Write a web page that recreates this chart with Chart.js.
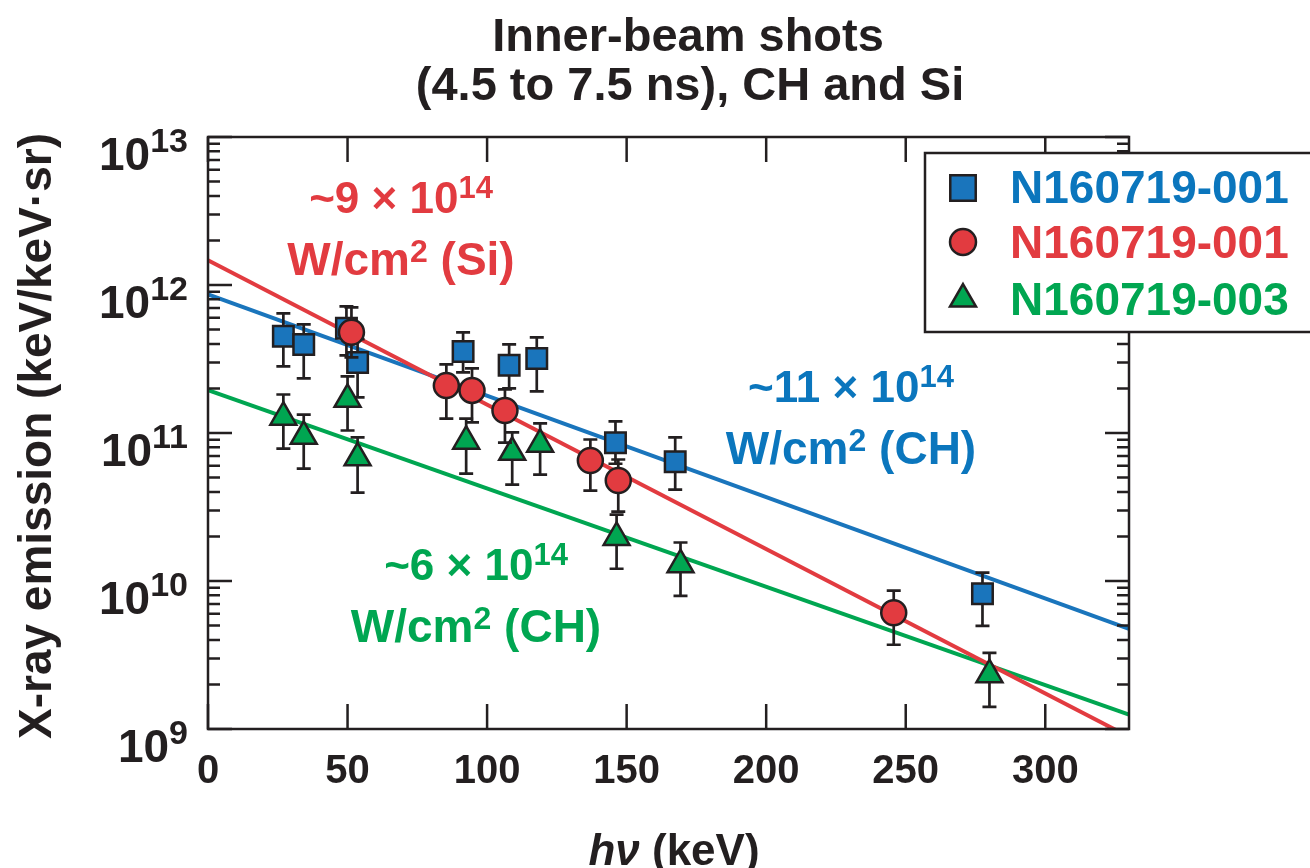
<!DOCTYPE html>
<html>
<head>
<meta charset="utf-8">
<title>Inner-beam shots</title>
<script src="https://cdn.jsdelivr.net/npm/chart.js@4.4.1/dist/chart.umd.min.js"></script>
<style>
  html, body { margin: 0; padding: 0; background: #fff; }
  #wrap { width: 1310px; height: 868px; }
</style>
</head>
<body>
<div id="wrap"><canvas id="xray" width="1310" height="868"></canvas></div>
<script>
// --- data (hv in keV, emission in keV/keV.sr) ---
const blueX  = [27, 34.3, 49.6, 53.6, 91.4, 107.9, 117.8, 146, 167.4, 277.5];
const blueY  = [4.5e11, 3.97e11, 5.1e11, 3.0e11, 3.56e11, 2.87e11, 3.19e11, 8.6e10, 6.4e10, 8.2e9];
const blueLo = [2.82e11, 2.34e11, 3.35e11, 1.74e11, 2.57e11, 2.0e11, 1.91e11, 6.2e10, 4.15e10, 4.98e9];
const blueHi = [6.44e11, 5.42e11, 7.18e11, 4.3e11, 4.79e11, 3.97e11, 4.43e11, 1.2e11, 9.33e10, 1.14e10];

const redX  = [51.4, 85.4, 94.6, 106.4, 137, 147, 245.7];
const redY  = [4.79e11, 2.09e11, 1.94e11, 1.42e11, 6.52e10, 4.78e10, 6.1e9];
const redLo = [3.24e11, 1.25e11, 1.18e11, 8.6e10, 4.08e10, 2.94e10, 3.71e9];
const redHi = [7.07e11, 2.91e11, 2.73e11, 1.97e11, 9.04e10, 6.62e10, 8.6e9];

const greenX  = [27, 34.3, 50, 53.6, 92.5, 109, 119, 146.4, 169.3, 280];
const greenY  = [1.28e11, 9.5e10, 1.69e11, 6.8e10, 8.8e10, 7.4e10, 8.4e10, 1.97e10, 1.29e10, 2.33e9];
const greenLo = [7.85e10, 5.75e10, 1.04e11, 3.96e10, 5.32e10, 4.48e10, 5.24e10, 1.21e10, 7.94e9, 1.41e9];
const greenHi = [1.82e11, 1.33e11, 2.41e11, 9.33e10, 1.25e11, 1.01e11, 1.16e11, 2.81e10, 1.82e10, 3.27e9];

// exponential fits (end points at hv = 0 and 330 keV)
const fitX     = [0, 330];
const blueFit  = [8.65e11, 4.75e9];
const redFit   = [1.47e12, 8.86e8];
const greenFit = [1.95e11, 1.25e9];

const xTicks   = [0, 50, 100, 150, 200, 250, 300];
const yDecades = [9, 10, 11, 12, 13];
const legendLabels = ["N160719-001", "N160719-001", "N160719-003"];

const INK = "#231f20";
const BLUE = "#1a75bc";
const RED = "#e23b40";
const GREEN = "#00a651";
const FONT = '"Liberation Sans", Arial, Helvetica, sans-serif';

const pts = (xs, ys) => xs.map((x, i) => ({ x: x, y: ys[i] }));

// draw a run of text pieces (for superscripts) left/center/right aligned
function rich(ctx, segs, x, y, align) {
  let total = 0;
  segs.forEach((s) => {
    ctx.font = s.font;
    s.w = ctx.measureText(s.text).width;
    total += s.w;
  });
  let cx = align === "center" ? x - total / 2 : align === "right" ? x - total : x;
  ctx.textAlign = "left";
  ctx.textBaseline = "alphabetic";
  segs.forEach((s) => {
    ctx.font = s.font;
    ctx.fillText(s.text, cx, y + (s.dy || 0));
    cx += s.w;
  });
}

const b = (size) => `bold ${size}px ${FONT}`;

function note(ctx, color, cx, base1, lead, tail) {
  ctx.fillStyle = color;
  rich(ctx, [{ text: lead, font: b(44) }, { text: "14", font: b(31), dy: -15 }], cx, base1, "center");
  rich(ctx, [
    { text: "W/cm", font: b(46) },
    { text: "2", font: b(32), dy: -13 },
    { text: tail, font: b(46) },
  ], cx, base1 + 62, "center");
}

const framePlugin = {
  id: "frameAndText",
  beforeDatasetDraw(chart, args) {
    const ds = chart.data.datasets[args.index];
    if (!ds.errLo) return;
    const ctx = chart.ctx;
    const xs = chart.scales.x;
    const ys = chart.scales.y;
    ctx.save();
    ctx.strokeStyle = INK;
    ctx.lineWidth = 2.7;
    ds.data.forEach((p, i) => {
      const px = xs.getPixelForValue(p.x);
      const top = ys.getPixelForValue(ds.errHi[i]);
      const bot = ys.getPixelForValue(ds.errLo[i]);
      ctx.beginPath();
      ctx.moveTo(px, top);
      ctx.lineTo(px, bot);
      ctx.moveTo(px - 7, top);
      ctx.lineTo(px + 7, top);
      ctx.moveTo(px - 7, bot);
      ctx.lineTo(px + 7, bot);
      ctx.stroke();
    });
    ctx.restore();
  },
  afterDraw(chart) {
    const ctx = chart.ctx;
    const area = chart.chartArea;
    const xs = chart.scales.x;
    const ys = chart.scales.y;
    ctx.save();

    // frame + ticks
    ctx.strokeStyle = INK;
    ctx.lineWidth = 2.5;
    ctx.strokeRect(area.left, area.top, area.right - area.left, area.bottom - area.top);
    ctx.beginPath();
    xTicks.forEach((v) => {
      const px = xs.getPixelForValue(v);
      ctx.moveTo(px, area.bottom);
      ctx.lineTo(px, area.bottom - 25);
      ctx.moveTo(px, area.top);
      ctx.lineTo(px, area.top + 25);
    });
    yDecades.forEach((d) => {
      for (let m = 1; m <= 9; m++) {
        if (d === 13 && m > 1) break;
        const py = ys.getPixelForValue(m * Math.pow(10, d));
        const len = m === 1 ? 24 : 12;
        ctx.moveTo(area.left, py);
        ctx.lineTo(area.left + len, py);
        ctx.moveTo(area.right, py);
        ctx.lineTo(area.right - len, py);
      }
    });
    ctx.stroke();

    // tick labels
    ctx.fillStyle = INK;
    ctx.font = b(40);
    ctx.textAlign = "center";
    ctx.textBaseline = "alphabetic";
    xTicks.forEach((v) => {
      ctx.fillText(String(v), xs.getPixelForValue(v), area.bottom + 54);
    });
    yDecades.forEach((d) => {
      const py = ys.getPixelForValue(Math.pow(10, d));
      rich(ctx, [{ text: "10", font: b(46) }, { text: String(d), font: b(34), dy: -18 }], 188, py + 33, "right");
    });

    // title
    ctx.font = b(47);
    ctx.textAlign = "center";
    ctx.fillText("Inner-beam shots", 688, 51);
    ctx.fillText("(4.5 to 7.5 ns), CH and Si", 690, 100);

    // axis titles
    ctx.save();
    ctx.translate(51, 436);
    ctx.rotate(-Math.PI / 2);
    ctx.font = b(46);
    ctx.textAlign = "center";
    ctx.fillText("X-ray emission (keV/keV\u00b7sr)", 0, 0);
    ctx.restore();
    rich(ctx, [
      { text: "h\u03bd", font: `italic bold 44px ${FONT}` },
      { text: " (keV)", font: b(44) },
    ], 674, 865, "center");

    // rate annotations
    note(ctx, RED, 401, 213, "~9 \u00d7 10", " (Si)");
    note(ctx, "#0b76bd", 851, 402, "~11 \u00d7 10", " (CH)");
    note(ctx, GREEN, 476, 580, "~6 \u00d7 10", " (CH)");

    // legend box
    ctx.fillStyle = "#fff";
    ctx.fillRect(925, 153, 400, 179);
    ctx.strokeStyle = INK;
    ctx.lineWidth = 2.5;
    ctx.strokeRect(925, 153, 400, 179);
    const marks = [
      { style: "rect", r: 18, fill: BLUE, y: 188, text: "#0b76bd", base: 203 },
      { style: "circle", r: 13, fill: RED, y: 242, text: RED, base: 258 },
      { style: "triangle", r: 15, fill: GREEN, y: 299, text: GREEN, base: 315 },
    ];
    marks.forEach((m, i) => {
      ctx.fillStyle = m.fill;
      ctx.strokeStyle = INK;
      ctx.lineWidth = 2.5;
      Chart.helpers.drawPoint(ctx, { pointStyle: m.style, radius: m.r, borderWidth: 2.5, rotation: 0 }, 963, m.y);
      ctx.fillStyle = m.text;
      ctx.font = b(46);
      ctx.textAlign = "left";
      ctx.fillText(legendLabels[i], 1010, m.base);
    });

    ctx.restore();
  },
};

const markerSet = (label, xs, ys, lo, hi, style, radius, fill, order) => ({
  label: label,
  data: pts(xs, ys),
  errLo: lo,
  errHi: hi,
  showLine: false,
  pointStyle: style,
  pointRadius: radius,
  pointHoverRadius: radius,
  pointBackgroundColor: fill,
  pointBorderColor: INK,
  pointBorderWidth: 2.5,
  order: order,
});

const fitSet = (ys, color, order) => ({
  label: "fit",
  data: pts(fitX, ys),
  showLine: true,
  borderColor: color,
  borderWidth: 4,
  pointRadius: 0,
  order: order,
});

new Chart(document.getElementById("xray"), {
  type: "scatter",
  data: {
    datasets: [
      fitSet(blueFit, BLUE, 12),
      fitSet(greenFit, GREEN, 11),
      fitSet(redFit, RED, 10),
      markerSet("N160719-001", blueX, blueY, blueLo, blueHi, "rect", 14.5, BLUE, 3),
      markerSet("N160719-003", greenX, greenY, greenLo, greenHi, "triangle", 15, GREEN, 2),
      markerSet("N160719-001 (Si)", redX, redY, redLo, redHi, "circle", 12.5, RED, 1),
    ],
  },
  options: {
    responsive: false,
    animation: false,
    events: [],
    layout: { padding: { left: 208, top: 137, right: 181, bottom: 139 } },
    plugins: { legend: { display: false }, tooltip: { enabled: false }, title: { display: false } },
    scales: {
      x: { type: "linear", min: 0, max: 330, display: false },
      y: { type: "logarithmic", min: 1e9, max: 1e13, display: false },
    },
  },
  plugins: [framePlugin],
});
</script>
</body>
</html>
